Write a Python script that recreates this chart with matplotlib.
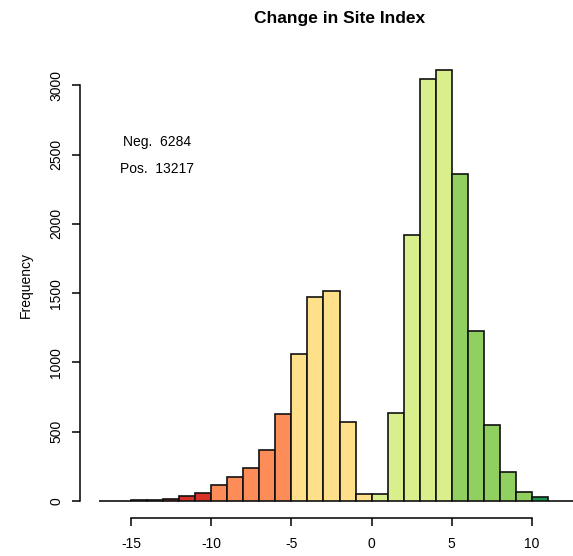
import numpy as np
import matplotlib
matplotlib.use("Agg")
import matplotlib.pyplot as plt

plt.rcParams['font.family'] = ['Liberation Sans', 'DejaVu Sans']

# histogram bins (left edges, width 1) and counts
bin_left = np.arange(-17, 13)
counts = [1, 2, 6, 9, 16, 32, 56, 112, 172, 240, 367, 630, 1058, 1470, 1512, 570, 50,
          50, 632, 1918, 3047, 3110, 2364, 1224, 546, 210, 66, 24, 2, 1]
n_neg = 6284
n_pos = 13217

# colour classes (RdYlGn, 6 classes) by bin mid point
class_breaks = [-10, -5, 0, 5, 10]
class_colors = ['#D73027', '#FC8D59', '#FEE08B', '#D9EF8B', '#91CF60', '#1A9850']

x_ticks = [-15, -10, -5, 0, 5, 10]
y_ticks = [0, 500, 1000, 1500, 2000, 2500, 3000]

W, H = 573, 556
fig = plt.figure(figsize=(W / 100, H / 100), dpi=100)
# plot region in pixels (right part runs past the image edge, as in the original)
left, right, top, bottom = 80, 599, 53, 518
ax = fig.add_axes([left / W, 1 - bottom / H, (right - left) / W, (bottom - top) / H])

mids = bin_left + 0.5
cols = [class_colors[np.searchsorted(class_breaks, m)] for m in mids]
ax.bar(bin_left, counts, width=1, align='edge', color=cols,
       edgecolor='#111111', linewidth=1.2)

ax.set_xlim(-18.2, 14.2)
ax.set_ylim(-124.4, 3234.4)

for s in ['top', 'right']:
    ax.spines[s].set_visible(False)
ax.spines['left'].set_bounds(0, 3000)
ax.spines['bottom'].set_bounds(-15, 10)
ax.spines['left'].set_linewidth(1.1)
ax.spines['bottom'].set_linewidth(1.1)

ax.set_xticks(x_ticks)
ax.set_xticklabels([str(t) for t in x_ticks])
ax.set_yticks(y_ticks)
ax.set_yticklabels([str(t) for t in y_ticks], rotation=90, va='center')
ax.tick_params(axis='both', length=6, width=1.1, labelsize=10, pad=8)
ax.tick_params(axis='y', pad=6)

ax.set_ylabel('Frequency', fontsize=10, labelpad=12)
fig.text((left + right) / 2 / W, 1 - 18 / H, 'Change in Site Index',
         ha='center', va='center', fontsize=12.5, fontweight='bold')

ax.text(-13.4, 2590, 'Neg.  ' + str(n_neg), ha='center', va='center', fontsize=10)
ax.text(-13.4, 2395, 'Pos.  ' + str(n_pos), ha='center', va='center', fontsize=10)

fig.savefig('out.png', dpi=100)
